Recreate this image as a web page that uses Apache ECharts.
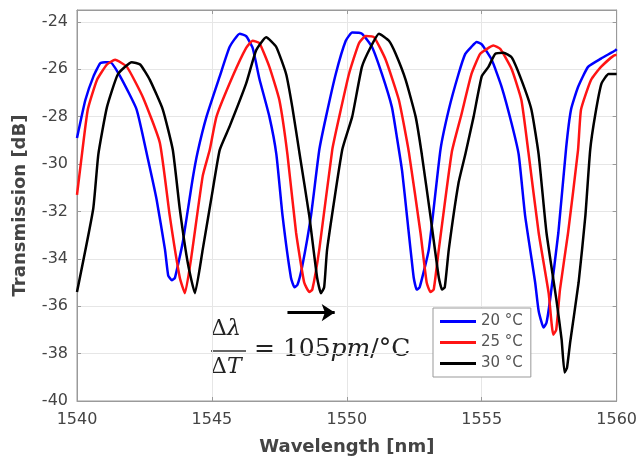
<!DOCTYPE html>
<html>
<head>
<meta charset="utf-8">
<script src="https://cdn.jsdelivr.net/npm/echarts@6/dist/echarts.min.js"></script>
<style>
  html, body { margin: 0; padding: 0; background: #fff; }
  #chart_box { width: 640px; height: 461px; }
</style>
</head>
<body>
<div id="chart_box"></div>
<script>
// 数据
var legendNames = ['20 °C', '25 °C', '30 °C'];
var xTicks = [1540, 1545, 1550, 1555, 1560];
var yTicks = [-40, -38, -36, -34, -32, -30, -28, -26, -24];

var wl20 = [1540.00, 1540.31, 1540.61, 1540.86, 1541.04, 1541.23, 1541.60, 1542.21, 1542.63, 1542.95,
  1543.26, 1543.38, 1543.51, 1543.63, 1543.92, 1544.29, 1544.47, 1544.80, 1545.29, 1545.66,
  1546.03, 1546.27, 1546.51, 1546.76, 1547.13, 1547.39, 1547.62, 1547.93, 1548.06, 1548.17,
  1548.35, 1548.67, 1548.98, 1549.23, 1549.59, 1549.96, 1550.20, 1550.56, 1550.93, 1551.30,
  1551.67, 1551.86, 1552.05, 1552.23, 1552.48, 1552.59, 1552.70, 1553.04, 1553.47, 1553.78,
  1554.14, 1554.39, 1554.62, 1554.81, 1555.00, 1555.37, 1555.74, 1556.11, 1556.37, 1556.61,
  1556.98, 1557.11, 1557.29, 1557.40, 1557.53, 1557.84, 1558.13, 1558.31, 1558.57, 1558.94,
  1559.42, 1559.96, 1560.00];
var tr20 = [-28.9, -27.3, -26.3, -25.75, -25.7, -25.7, -26.3, -27.7, -29.8, -31.5,
  -33.6, -34.7, -34.9, -34.8, -33.3, -30.6, -29.5, -28.0, -26.3, -25.05,
  -24.5, -24.6, -25.1, -26.4, -28.0, -29.6, -32.2, -34.8, -35.2, -35.1,
  -34.3, -32.2, -29.4, -28.0, -26.2, -24.8, -24.45, -24.5, -25.05, -26.2,
  -27.6, -28.9, -30.3, -32.2, -34.8, -35.3, -35.2, -33.6, -29.4, -27.7,
  -26.2, -25.35, -25.05, -24.85, -24.95, -25.6, -26.75, -28.3, -29.6, -32.2,
  -35.0, -36.2, -36.9, -36.7, -35.75, -32.9, -29.3, -27.7, -26.75, -25.9,
  -25.55, -25.2, -25.15];

var wl25 = [1540.00, 1540.15, 1540.40, 1540.74, 1541.11, 1541.41, 1541.85, 1542.45, 1543.07, 1543.44,
  1543.81, 1544.00, 1544.24, 1544.66, 1544.92, 1545.17, 1545.77, 1546.27, 1546.51, 1546.76,
  1547.13, 1547.50, 1547.80, 1548.12, 1548.42, 1548.61, 1548.72, 1548.98, 1549.46, 1549.72,
  1550.08, 1550.45, 1550.70, 1551.01, 1551.44, 1551.93, 1552.30, 1552.73, 1552.96, 1553.10,
  1553.22, 1553.41, 1553.89, 1554.25, 1554.62, 1554.94, 1555.25, 1555.43, 1555.69, 1556.11,
  1556.47, 1556.73, 1557.11, 1557.48, 1557.65, 1557.76, 1557.90, 1558.20, 1558.57, 1558.68,
  1559.05, 1559.42, 1559.96, 1560.00];
var tr25 = [-31.3, -29.9, -27.7, -26.45, -25.8, -25.6, -25.9, -27.2, -29.1, -32.2,
  -34.8, -35.45, -33.9, -30.5, -29.4, -28.0, -26.3, -25.1, -24.8, -24.9,
  -25.9, -27.3, -29.6, -32.9, -35.0, -35.4, -35.3, -33.6, -29.4, -28.0,
  -26.2, -24.9, -24.6, -24.65, -25.6, -27.3, -29.5, -32.9, -35.0, -35.4,
  -35.3, -33.6, -29.5, -27.9, -26.2, -25.35, -25.1, -25.0, -25.15, -26.0,
  -27.3, -29.5, -32.9, -35.45, -37.2, -37.0, -35.3, -32.9, -29.4, -27.7,
  -26.45, -25.9, -25.4, -25.4];

var wl30 = [1540.00, 1540.60, 1540.79, 1541.11, 1541.52, 1542.03, 1542.34, 1542.70, 1543.18, 1543.55,
  1543.81, 1544.11, 1544.37, 1544.66, 1545.03, 1545.29, 1545.66, 1546.27, 1546.64, 1547.01,
  1547.38, 1547.75, 1547.98, 1548.24, 1548.61, 1548.90, 1549.04, 1549.16, 1549.27, 1549.83,
  1550.20, 1550.56, 1550.89, 1551.19, 1551.56, 1551.81, 1552.18, 1552.55, 1552.78, 1553.10,
  1553.41, 1553.53, 1553.63, 1553.78, 1554.14, 1554.39, 1554.70, 1555.00, 1555.25, 1555.50,
  1555.81, 1556.11, 1556.47, 1556.84, 1557.11, 1557.40, 1557.77, 1557.96, 1558.07, 1558.16,
  1558.28, 1558.59, 1558.84, 1559.02, 1559.21, 1559.44, 1559.70, 1559.96, 1560.00];
var tr30 = [-35.4, -31.9, -29.6, -27.6, -26.2, -25.7, -25.8, -26.45, -27.7, -29.4,
  -31.9, -34.2, -35.45, -33.6, -31.1, -29.4, -28.4, -26.6, -25.2, -24.65,
  -25.05, -26.2, -27.6, -29.5, -32.2, -34.8, -35.45, -35.2, -33.6, -29.4,
  -28.0, -25.9, -25.05, -24.5, -24.8, -25.35, -26.45, -28.0, -29.6, -32.2,
  -34.8, -35.3, -35.2, -33.6, -30.8, -29.6, -28.0, -26.3, -25.9, -25.35,
  -25.3, -25.5, -26.45, -27.7, -29.6, -32.9, -35.75, -37.4, -38.8, -38.6,
  -37.5, -35.0, -32.2, -29.4, -27.9, -26.6, -26.2, -26.2, -26.2];

// 箭头 (波长方向)
var arrowFrom = [1547.8, -36.27];
var arrowTo = [1549.55, -36.27];

function zip(xs, ys) {
  var out = [];
  for (var i = 0; i < xs.length; i++) out.push([xs[i], ys[i]]);
  return out;
}

var myChart = echarts.init(document.getElementById('chart_box'));
var labelFont = 'DejaVu Sans';
var gridColor = '#e6e6e6';
var boxColor = '#9a9a9a';

function mkSeries(name, color, data) {
  return {
    name: name,
    type: 'line',
    data: data,
    showSymbol: false,
    smooth: 0.15,
    lineStyle: { color: color, width: 2.5 },
    itemStyle: { color: color },
    emphasis: { disabled: true },
    animation: false
  };
}

var s20 = mkSeries(legendNames[0], '#0000ff', zip(wl20, tr20));
var s25 = mkSeries(legendNames[1], '#ff1414', zip(wl25, tr25));
var s30 = mkSeries(legendNames[2], '#000000', zip(wl30, tr30));
s30.markLine = {
  silent: true,
  symbol: ['none', 'arrow'],
  symbolSize: 13,
  label: { show: false },
  lineStyle: { color: '#000', width: 3, type: 'solid' },
  emphasis: { disabled: true },
  data: [[{ coord: arrowFrom }, { coord: arrowTo }]]
};

var option = {
  backgroundColor: '#fff',
  animation: false,
  grid: { left: 77, right: 22, top: 10, bottom: 60, show: true, borderColor: boxColor, borderWidth: 1 },
  legend: {
    left: 433, top: 308,
    orient: 'vertical',
    backgroundColor: '#fff',
    borderColor: '#999',
    borderWidth: 1,
    borderRadius: 0,
    padding: [6, 8, 6, 7],
    itemWidth: 36, itemHeight: 3, itemGap: 6,
    icon: 'rect',
    textStyle: { fontFamily: labelFont, fontSize: 15, color: '#555' },
    data: legendNames
  },
  xAxis: [{
    type: 'value', min: xTicks[0], max: xTicks[xTicks.length - 1], interval: 5,
    name: 'Wavelength [nm]', nameLocation: 'middle', nameGap: 37,
    nameTextStyle: { fontFamily: labelFont, fontSize: 18, fontWeight: 'bold', color: '#444' },
    axisLine: { show: true, lineStyle: { color: boxColor } },
    axisTick: { show: true, inside: true, length: 4, lineStyle: { color: boxColor } },
    axisLabel: {
      fontFamily: labelFont, fontSize: 16, color: '#444', margin: 11,
      formatter: function (v) { return String(v); }
    },
    splitLine: { show: true, lineStyle: { color: gridColor, width: 1 } }
  }, {
    type: 'value', position: 'top', min: xTicks[0], max: xTicks[xTicks.length - 1], interval: 5,
    axisLine: { show: true, lineStyle: { color: boxColor } },
    axisTick: { show: true, inside: true, length: 4, lineStyle: { color: boxColor } },
    axisLabel: { show: false }, splitLine: { show: false }
  }],
  yAxis: [{
    type: 'value', min: yTicks[0], max: -23.5, interval: 2,
    name: 'Transmission [dB]', nameLocation: 'middle', nameGap: 48,
    nameTextStyle: { fontFamily: labelFont, fontSize: 18, fontWeight: 'bold', color: '#444' },
    axisLine: { show: true, lineStyle: { color: boxColor } },
    axisTick: { show: true, inside: true, length: 4, lineStyle: { color: boxColor } },
    axisLabel: {
      fontFamily: labelFont, fontSize: 16, color: '#444', margin: 9,
      formatter: function (v) { return yTicks.indexOf(v) >= 0 ? String(v) : ''; }
    },
    splitLine: { show: true, lineStyle: { color: gridColor, width: 1 } }
  }, {
    type: 'value', position: 'right', min: yTicks[0], max: -23.5, interval: 2,
    axisLine: { show: true, lineStyle: { color: boxColor } },
    axisTick: { show: true, inside: true, length: 4, lineStyle: { color: boxColor } },
    axisLabel: { show: false }, splitLine: { show: false }
  }],
  graphic: [
    {
      type: 'text', left: 211, top: 318, silent: true,
      style: {
        text: '{a|Δ}{b|λ}',
        rich: {
          a: { fontFamily: 'DejaVu Serif', fontSize: 22, fill: '#222' },
          b: { fontFamily: 'DejaVu Serif', fontStyle: 'italic', fontSize: 22, fill: '#222' }
        }
      }
    },
    {
      type: 'line', silent: true,
      shape: { x1: 211, y1: 351, x2: 246, y2: 351 },
      style: { stroke: '#333', lineWidth: 1.5 }
    },
    {
      type: 'text', left: 211, top: 356, silent: true,
      style: {
        text: '{a|Δ}{b|T}',
        rich: {
          a: { fontFamily: 'DejaVu Serif', fontSize: 22, fill: '#222' },
          b: { fontFamily: 'DejaVu Serif', fontStyle: 'italic', fontSize: 22, fill: '#222' }
        }
      }
    },
    {
      type: 'text', left: 254, top: 337, silent: true,
      style: {
        text: '{a|= 105}{b|pm}{a|/°C}',
        rich: {
          a: { fontFamily: 'DejaVu Serif', fontSize: 25, fill: '#222' },
          b: { fontFamily: 'DejaVu Serif', fontStyle: 'italic', fontSize: 25, fill: '#222' }
        }
      }
    }
  ],
  series: [s20, s25, s30]
};

myChart.setOption(option);
</script>
</body>
</html>
